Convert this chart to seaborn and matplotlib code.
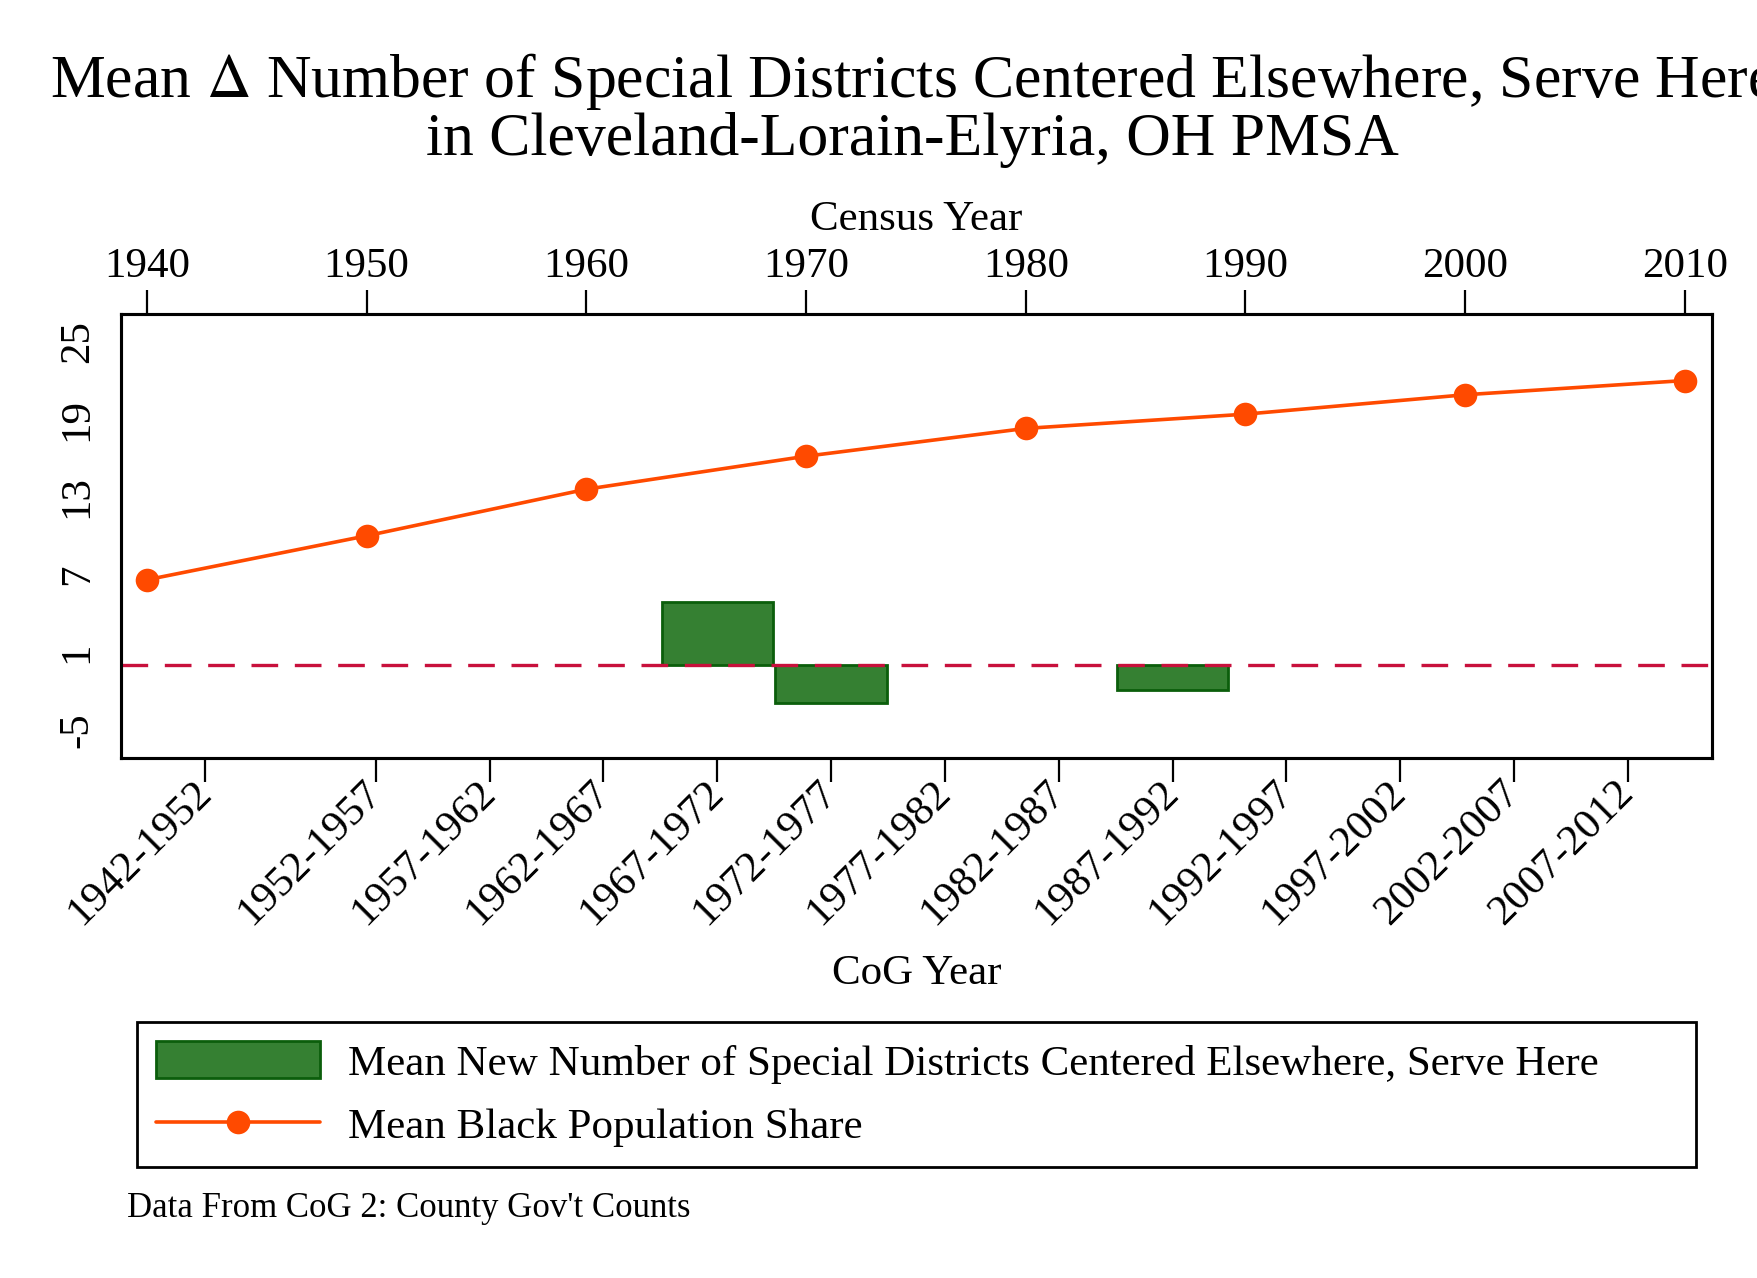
import numpy as np
import pandas as pd
import seaborn as sns
import matplotlib.pyplot as plt

# CoG periods (bottom axis) and the change in special districts
periods = ["1942-1952", "1952-1957", "1957-1962", "1962-1967", "1967-1972",
           "1972-1977", "1977-1982", "1982-1987", "1987-1992", "1992-1997",
           "1997-2002", "2002-2007", "2007-2012"]
period_mid = [1947, 1954.5, 1959.5, 1964.5, 1969.5, 1974.5, 1979.5,
              1984.5, 1989.5, 1994.5, 1999.5, 2004.5, 2009.5]
districts_change = [np.nan, np.nan, np.nan, np.nan, 4.9, -2.95, np.nan,
                    np.nan, -1.9, np.nan, np.nan, np.nan, np.nan]

# census years (top axis) and black population share
census_years = [1940, 1950, 1960, 1970, 1980, 1990, 2000, 2010]
black_share = [6.6, 10.0, 13.6, 16.15, 18.3, 19.4, 20.9, 22.0]

y_ticks = [-5, 1, 7, 13, 19, 25]

sns.set_theme(style="white")
plt.rcParams["font.family"] = ["Liberation Serif", "DejaVu Serif"]
plt.rcParams["mathtext.fontset"] = "stix"
plt.rcParams["text.color"] = "black"
plt.rcParams["axes.labelcolor"] = "black"
plt.rcParams["xtick.color"] = "black"
plt.rcParams["ytick.color"] = "black"

BAR_FILL = "#358032"
BAR_EDGE = "#0b5e0b"
LINE_C = "#ff4a00"
REF_C = "#c8103c"
FS = 31

bars = pd.DataFrame({"mid": period_mid, "change": districts_change}).dropna()
share = pd.DataFrame({"year": census_years, "share": black_share})

fig = plt.figure(figsize=(17.58, 12.78), dpi=100)
ax = fig.add_axes([0.0688, 0.4069, 0.9050, 0.3474])

sns.barplot(data=bars, x="mid", y="change", native_scale=True, width=0.98,
            color=BAR_FILL, edgecolor=BAR_EDGE, linewidth=2, saturation=1,
            ax=ax, zorder=2)
ax.axhline(0, color=REF_C, lw=2.4, dashes=(8.0, 5.0), zorder=3)

ax.set_xlim(1943.3, 2013.2)
ax.set_ylim(-7.17, 27.14)
ax.set_xticks(period_mid)
ax.set_xticklabels(periods, rotation=45, ha="right", va="center",
                   rotation_mode="anchor", fontsize=FS)
ax.set_yticks(y_ticks)
ax.set_yticklabels([str(v) for v in y_ticks], rotation=90, va="center",
                   fontsize=FS)
ax.set_xlabel("CoG Year", fontsize=FS, labelpad=16)
ax.set_ylabel("")
ax.tick_params(axis="both", direction="out", length=17, width=1.6,
               color="black", labelcolor="black")
ax.tick_params(axis="y", pad=0.5)
ax.tick_params(axis="x", pad=4)
for side, sp in ax.spines.items():
    sp.set_color("black")
    sp.set_linewidth(2.2)

ax2 = ax.twiny()
sns.lineplot(data=share, x="year", y="share", color=LINE_C, lw=2.6,
             marker="o", markersize=17, markeredgewidth=0, ax=ax2, zorder=4)
ax2.set_xlim(1938.82, 2011.23)
ax2.set_ylim(-7.17, 27.14)
ax2.set_xticks(census_years)
ax2.set_xticklabels([str(y) for y in census_years], fontsize=FS)
ax2.set_xlabel("Census Year", fontsize=FS, labelpad=13)
ax2.set_ylabel("")
ax2.tick_params(axis="x", direction="out", length=17, width=1.6,
                color="black", labelcolor="black", pad=3)
for sp in ax2.spines.values():
    sp.set_color("black")
    sp.set_linewidth(2.2)

fig.text(0.5192, 0.960, "Mean $\\Delta$ Number of Special Districts Centered Elsewhere, Serve Here\nin Cleveland-Lorain-Elyria, OH PMSA",
         ha="center", va="top", fontsize=44.5, linespacing=1.0)

# legend built from the drawn artists
bar_handle = plt.Rectangle((0, 0), 1, 1, facecolor=BAR_FILL,
                           edgecolor=BAR_EDGE, linewidth=2)
line_handle = ax2.get_lines()[0]
leg = fig.legend([bar_handle, line_handle],
                 ["Mean New Number of Special Districts Centered Elsewhere, Serve Here",
                  "Mean Black Population Share"],
                 loc="lower left",
                 bbox_to_anchor=(0.0778, 0.0870, 0.887, 0.1125),
                 mode="expand", ncol=1, fontsize=FS, frameon=True,
                 fancybox=False, framealpha=1, edgecolor="black",
                 handlelength=3.8, handleheight=0.95, handletextpad=0.65,
                 borderpad=0.45, labelspacing=0.5, borderaxespad=0)
leg.get_frame().set_linewidth(2)

fig.text(0.072, 0.0543, "Data From CoG 2: County Gov't Counts",
         ha="left", va="center", fontsize=25)

fig.savefig("out.png", dpi=100, facecolor="white")
